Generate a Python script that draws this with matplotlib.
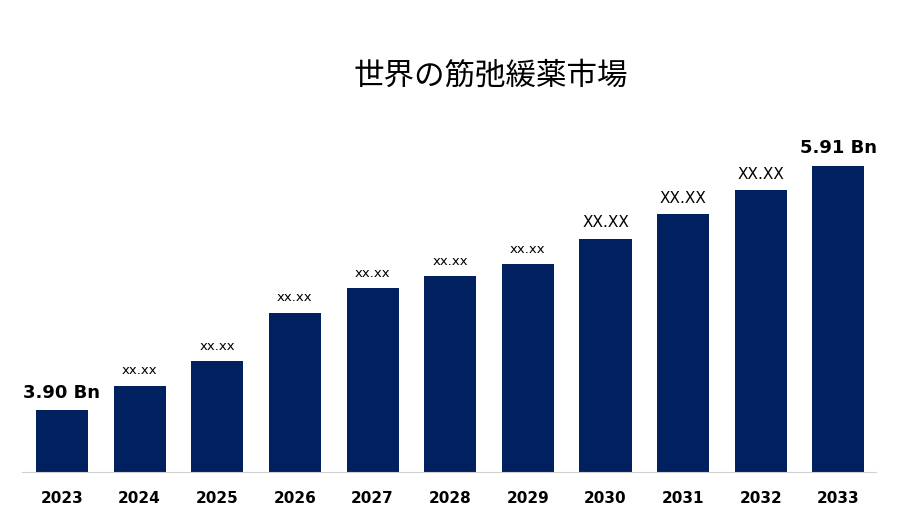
import matplotlib.pyplot as plt

years = ["2023", "2024", "2025", "2026", "2027", "2028", "2029", "2030", "2031", "2032", "2033"]
values = [3.90, 4.10, 4.30, 4.70, 4.90, 5.00, 5.10, 5.31, 5.51, 5.71, 5.91]
labels = ["3.90 Bn", "xx.xx", "xx.xx", "xx.xx", "xx.xx", "xx.xx", "xx.xx",
          "XX.XX", "XX.XX", "XX.XX", "5.91 Bn"]

fig = plt.figure(figsize=(9, 5.25), dpi=100)
ax = fig.add_axes([0.024, 0.101, 0.949, 0.709])
x = range(len(years))
ax.bar(x, values, width=0.67, color="#002060")
ax.set_xlim(-0.52, 10.48)
ax.set_ylim(3.389, 6.454)

for i, (v, lab) in enumerate(zip(values, labels)):
    if "Bn" in lab:
        kw = dict(fontsize=13, fontweight="bold")
    elif lab.isupper():
        kw = dict(fontsize=11)
    else:
        kw = dict(fontsize=9.5)
    ax.annotate(lab, (i, v), xytext=(0, 6), textcoords="offset points",
                ha="center", va="bottom", color="black", **kw)

ax.set_xticks(list(x))
ax.set_xticklabels(years, fontsize=11, fontweight="bold")
ax.tick_params(axis="x", length=0, pad=14)
ax.set_yticks([])
for s in ["top", "right", "left"]:
    ax.spines[s].set_visible(False)
ax.spines["bottom"].set_color("#d0d0d0")

fig.text(0.545, 0.855, "世界の筋弛緩薬市場", ha="center", va="center",
         fontsize=22, fontfamily="Noto Sans CJK JP")

fig.savefig("out.png")
